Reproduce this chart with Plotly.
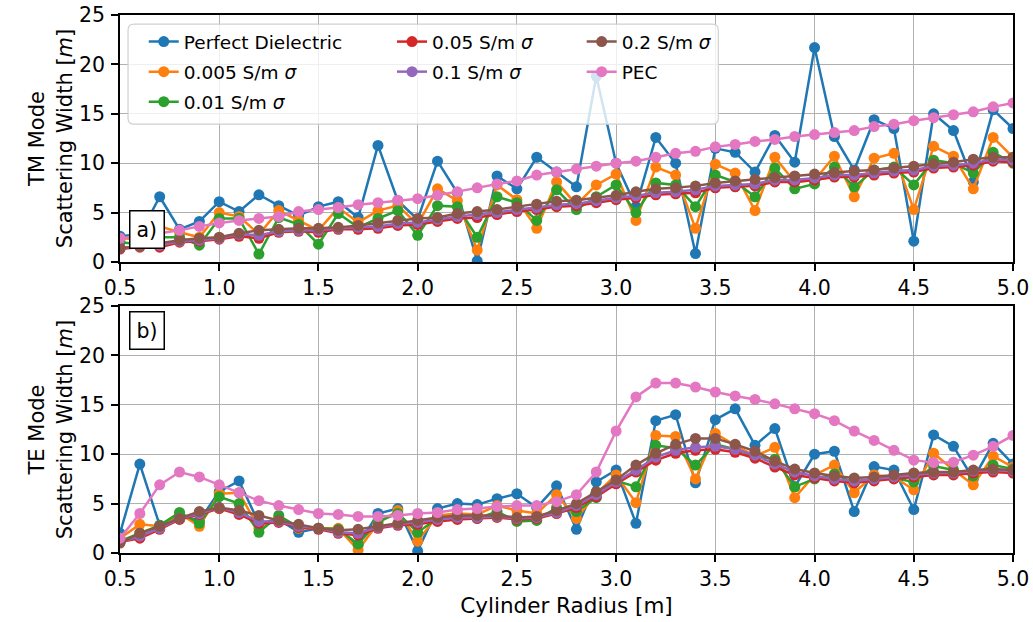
import plotly.graph_objects as go
from plotly.subplots import make_subplots

radius = [round(0.5 + 0.1 * i, 1) for i in range(46)]

names = ["Perfect Dielectric", "0.005 S/m <i>σ</i>", "0.01 S/m <i>σ</i>",
         "0.05 S/m <i>σ</i>", "0.1 S/m <i>σ</i>", "0.2 S/m <i>σ</i>", "PEC"]
colors = ["#1f77b4", "#ff7f0e", "#2ca02c", "#d62728", "#9467bd", "#8c564b", "#e377c2"]

# TM mode
tm_dielectric = [2.6,2.8,6.6,3.3,4.1,6.1,5.1,6.8,5.7,4.7,5.6,6.1,4.5,11.8,6.2,4.3,10.2,7.0,0.1,8.7,7.4,10.6,9.1,7.6,18.8,10.0,5.6,12.6,10.0,0.85,11.5,11.1,9.1,12.8,10.1,21.7,12.7,9.3,14.4,13.5,2.1,15.0,13.3,8.1,15.4,13.5]
tm_s0005 = [2.4,2.3,3.6,3.0,2.5,5.0,4.6,2.8,5.2,4.2,3.2,5.5,4.0,5.2,5.7,3.8,7.4,6.2,1.2,7.8,6.3,3.4,8.1,5.8,7.8,8.9,4.2,9.6,8.8,3.4,9.9,9.0,5.2,10.6,8.1,8.3,10.7,6.6,10.5,11.0,5.3,11.7,10.7,7.4,12.6,10.6]
tm_s001 = [2.0,1.8,2.5,2.5,1.7,4.4,4.4,0.8,4.5,3.8,1.8,4.9,3.5,4.4,5.2,2.7,5.7,5.6,2.5,6.6,6.0,4.2,7.3,5.3,6.6,7.8,5.0,8.0,7.8,5.6,8.8,8.1,6.6,9.5,7.4,7.9,9.6,7.6,9.3,9.6,7.8,10.3,10.0,9.0,11.1,10.0]
tm_s005 = [1.3,1.5,1.5,2.0,2.1,2.3,2.6,2.4,3.0,3.1,3.0,3.3,3.3,3.4,3.7,3.8,4.1,4.4,4.5,4.8,5.1,5.3,5.6,5.7,6.0,6.3,6.5,6.8,6.9,7.0,7.5,7.6,7.7,8.1,8.1,8.3,8.6,8.6,8.8,9.0,9.1,9.5,9.6,9.8,10.2,10.1]
tm_s01 = [1.4,1.6,1.7,2.1,2.2,2.4,2.8,2.7,3.1,3.2,3.2,3.4,3.5,3.6,3.9,4.0,4.3,4.6,4.8,5.0,5.3,5.5,5.8,5.9,6.2,6.5,6.7,7.0,7.1,7.3,7.7,7.8,7.9,8.3,8.3,8.5,8.8,8.8,9.0,9.2,9.3,9.7,9.8,10.0,10.4,10.3]
tm_s02 = [1.4,1.6,1.9,2.2,2.4,2.5,2.9,3.2,3.3,3.4,3.4,3.5,3.7,3.95,4.2,4.4,4.5,4.9,5.1,5.3,5.6,5.85,6.15,6.25,6.5,6.75,7.1,7.4,7.5,7.7,8.0,8.2,8.35,8.55,8.7,8.9,9.05,9.2,9.3,9.5,9.7,9.95,10.1,10.4,10.6,10.6]
tm_pec = [2.4,2.6,2.9,3.2,3.6,3.95,4.2,4.4,4.6,5.1,5.3,5.5,5.8,6.0,6.25,6.4,6.75,7.1,7.5,7.9,8.2,8.8,9.1,9.4,9.7,10.0,10.2,10.6,11.0,11.2,11.65,11.9,12.2,12.4,12.7,12.9,13.1,13.3,13.7,13.95,14.3,14.6,14.9,15.2,15.7,16.1]

# TE mode
te_dielectric = [2.0,9.0,2.8,3.8,3.3,6.2,7.3,3.0,3.4,2.1,2.5,2.4,0.8,4.0,4.5,0.2,4.5,5.0,4.9,5.5,6.0,4.6,6.8,2.4,7.2,8.4,3.0,13.4,14.0,7.1,13.5,14.6,10.9,12.6,6.7,10.0,10.3,4.2,8.75,8.4,4.4,11.95,10.8,7.5,11.1,9.0]
te_s0005 = [1.5,2.9,2.7,4.0,2.7,6.0,6.1,2.5,3.5,2.5,2.5,2.5,0.3,3.0,4.3,1.2,3.8,4.0,3.9,4.8,4.3,4.0,5.9,3.5,6.0,7.9,5.1,11.9,11.8,7.5,12.1,10.9,9.8,10.7,5.6,7.9,8.9,6.1,7.9,7.7,6.4,10.1,8.4,6.9,9.8,8.7]
te_s001 = [1.2,2.0,2.8,4.1,3.0,5.7,5.0,2.1,3.8,2.6,2.5,2.4,0.9,3.2,4.0,2.1,3.5,3.7,3.5,4.2,3.2,3.3,4.6,4.2,5.6,7.3,6.7,10.9,10.6,8.9,11.0,10.5,9.8,9.5,6.7,7.5,8.0,7.1,7.4,7.6,7.2,8.8,8.4,7.8,8.9,8.5]
te_s005 = [1.1,1.5,2.4,3.4,3.9,4.5,3.9,3.0,3.1,2.6,2.4,2.0,1.8,2.5,2.8,2.9,3.2,3.4,3.5,3.6,3.4,3.5,4.0,4.6,5.7,7.0,8.2,9.4,10.1,10.4,10.5,10.2,9.6,8.7,7.9,7.6,7.3,7.1,7.3,7.5,7.7,7.9,7.9,8.1,8.2,8.1]
te_s01 = [1.1,1.7,2.5,3.5,4.0,4.6,4.1,3.2,3.2,2.7,2.5,2.1,2.0,2.6,2.9,3.1,3.4,3.6,3.6,3.7,3.5,3.6,4.1,4.8,5.9,7.2,8.4,9.7,10.4,10.7,10.8,10.5,9.9,9.0,8.2,7.8,7.5,7.3,7.5,7.7,7.9,8.1,8.1,8.3,8.4,8.3]
te_s02 = [1.0,2.0,2.7,3.5,4.2,4.6,4.3,3.8,3.3,2.9,2.5,2.3,2.4,2.7,3.0,3.3,3.6,3.8,3.8,3.8,3.6,3.7,4.3,5.0,6.2,7.4,8.9,10.1,11.0,11.6,11.6,11.0,10.3,9.3,8.5,8.1,7.8,7.6,7.7,7.9,8.1,8.2,8.2,8.4,8.5,8.4]
te_pec = [1.5,4.0,6.9,8.2,7.7,6.9,6.1,5.3,4.8,4.4,4.0,3.9,3.7,3.7,3.8,4.0,4.1,4.4,4.5,4.7,4.8,4.8,5.2,5.9,8.2,12.35,15.8,17.2,17.2,16.8,16.3,15.9,15.55,15.1,14.6,14.1,13.4,12.35,11.4,10.4,9.4,9.15,9.2,9.9,10.8,11.9]

tm_series = [tm_dielectric, tm_s0005, tm_s001, tm_s005, tm_s01, tm_s02, tm_pec]
te_series = [te_dielectric, te_s0005, te_s001, te_s005, te_s01, te_s02, te_pec]
legend_ids = ["legend", "legend", "legend", "legend2", "legend2", "legend3", "legend3"]

x_ticks = [0.5, 1.0, 1.5, 2.0, 2.5, 3.0, 3.5, 4.0, 4.5, 5.0]
y_ticks = [0, 5, 10, 15, 20, 25]

FONT = "DejaVu Sans"

fig = make_subplots(rows=2, cols=1, vertical_spacing=0.082)

for i in range(7):
    fig.add_trace(go.Scatter(
        x=radius, y=tm_series[i], name=names[i], mode="lines+markers",
        line=dict(color=colors[i], width=2.5), marker=dict(size=11, color=colors[i]),
        legend=legend_ids[i], legendgroup=names[i]), row=1, col=1)
for i in range(7):
    fig.add_trace(go.Scatter(
        x=radius, y=te_series[i], name=names[i], mode="lines+markers",
        line=dict(color=colors[i], width=2.5), marker=dict(size=11, color=colors[i]),
        showlegend=False), row=2, col=1)

axis_common = dict(showline=True, mirror=True, linecolor="black", linewidth=1.5,
                   ticks="outside", ticklen=7, tickwidth=1.5, tickcolor="black",
                   showgrid=True, gridcolor="#b0b0b0", gridwidth=1.3, zeroline=False,
                   automargin=False, ticklabeloverflow="allow",
                   tickfont=dict(family=FONT, size=20.5, color="black"))

for r in (1, 2):
    fig.update_xaxes(range=[0.5, 5.0], tickvals=x_ticks, tickformat=".1f",
                     **axis_common, row=r, col=1)
    fig.update_yaxes(range=[0, 25], tickvals=y_ticks, ticklabelstandoff=2,
                     **axis_common, row=r, col=1)

fig.update_yaxes(title=dict(text="TM Mode<br>Scattering Width [<i>m</i>]",
                            font=dict(family=FONT, size=21, color="black"), standoff=1),
                 row=1, col=1)
fig.update_yaxes(title=dict(text="TE Mode<br>Scattering Width [<i>m</i>]",
                            font=dict(family=FONT, size=21, color="black"), standoff=1),
                 row=2, col=1)
fig.update_xaxes(title=dict(text="Cylinder Radius [m]",
                            font=dict(family=FONT, size=21.5, color="black"), standoff=8),
                 row=2, col=1)

leg_common = dict(bgcolor="rgba(0,0,0,0)", borderwidth=0, yanchor="top", xanchor="left",
                  font=dict(family=FONT, size=18.5, color="black"),
                  traceorder="grouped", tracegroupgap=3, orientation="v")

fig.update_layout(
    width=1033, height=622,
    margin=dict(l=120, r=20, t=15, b=69),
    paper_bgcolor="white", plot_bgcolor="white",
    font=dict(family=FONT, size=18, color="black"),
    legend=dict(x=0.0266, y=0.985, **leg_common),
    legend2=dict(x=0.3046, y=0.985, **leg_common),
    legend3=dict(x=0.517, y=0.985, **leg_common),
    showlegend=True,
)

# legend frame (matplotlib-style rounded box)
x0, x1, y0, y1 = 0.009, 0.67, 0.797, 0.983
rx, ry = 6 / 893, 6 / 538
path = (f"M{x0+rx},{y1} L{x1-rx},{y1} Q{x1},{y1} {x1},{y1-ry} L{x1},{y0+ry} "
        f"Q{x1},{y0} {x1-rx},{y0} L{x0+rx},{y0} Q{x0},{y0} {x0},{y0+ry} "
        f"L{x0},{y1-ry} Q{x0},{y1} {x0+rx},{y1} Z")
fig.add_shape(type="path", path=path, xref="paper", yref="paper",
              fillcolor="rgba(255,255,255,0.8)", line=dict(color="#d0d0d0", width=1.2),
              layer="above")

fig.add_annotation(text="a)", xref="x domain", yref="y domain", x=0.0297, y=0.13,
                   xanchor="center", yanchor="middle",
                   showarrow=False, font=dict(family=FONT, size=20.5, color="black"),
                   bordercolor="black", borderwidth=1.5, borderpad=6, bgcolor="white")
fig.add_annotation(text="b)", xref="x2 domain", yref="y2 domain", x=0.0297, y=0.90,
                   xanchor="center", yanchor="middle",
                   showarrow=False, font=dict(family=FONT, size=20.5, color="black"),
                   bordercolor="black", borderwidth=1.5, borderpad=6, bgcolor="white")

# remove the browser's default 8px page margin so the figure fills the window
fig.write_html("out.html", config={"displayModeBar": False},
               post_script="document.body.style.margin='0px';document.body.style.overflow='hidden';")
